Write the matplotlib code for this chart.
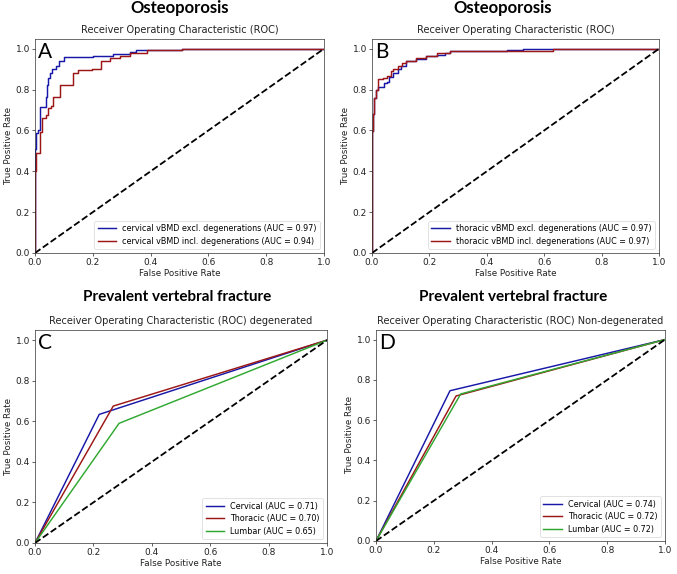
import matplotlib
matplotlib.use("Agg")
import matplotlib.pyplot as plt

# ---------------- data ----------------
# Panel A (cervical)
a_excl_fpr = [0, 0, 0.003, 0.012, 0.019, 0.037, 0.040, 0.046, 0.052, 0.060, 0.073, 0.084, 0.100, 0.200, 0.225, 0.270, 0.330, 0.350, 0.510, 1.0]
a_excl_tpr = [0, 0.510, 0.586, 0.600, 0.714, 0.766, 0.820, 0.856, 0.880, 0.900, 0.913, 0.940, 0.957, 0.962, 0.966, 0.975, 0.985, 0.995, 1.000, 1.0]
a_incl_fpr = [0, 0, 0.003, 0.017, 0.025, 0.038, 0.046, 0.054, 0.064, 0.087, 0.133, 0.150, 0.196, 0.230, 0.260, 0.294, 0.330, 0.386, 0.510, 1.0]
a_incl_tpr = [0, 0.400, 0.490, 0.594, 0.660, 0.676, 0.710, 0.720, 0.766, 0.823, 0.880, 0.894, 0.900, 0.938, 0.954, 0.966, 0.979, 0.992, 1.000, 1.0]
a_labels = ["cervical vBMD excl. degenerations (AUC = 0.97)",
            "cervical vBMD incl. degenerations (AUC = 0.94)"]

# Panel B (thoracic)
b_excl_fpr = [0, 0, 0.005, 0.008, 0.014, 0.020, 0.043, 0.054, 0.060, 0.072, 0.089, 0.100, 0.118, 0.152, 0.187, 0.227, 0.256, 0.273, 0.470, 0.527, 1.0]
b_excl_tpr = [0, 0.595, 0.680, 0.757, 0.800, 0.815, 0.830, 0.838, 0.860, 0.880, 0.900, 0.917, 0.938, 0.950, 0.962, 0.970, 0.980, 0.990, 0.995, 1.000, 1.0]
b_incl_fpr = [0, 0, 0.005, 0.008, 0.014, 0.020, 0.037, 0.054, 0.066, 0.072, 0.089, 0.106, 0.118, 0.152, 0.187, 0.227, 0.273, 0.630, 1.0]
b_incl_tpr = [0, 0.595, 0.680, 0.757, 0.800, 0.850, 0.856, 0.865, 0.890, 0.900, 0.913, 0.930, 0.940, 0.954, 0.966, 0.977, 0.990, 1.000, 1.0]
b_labels = ["thoracic vBMD excl. degenerations (AUC = 0.97)",
            "thoracic vBMD incl. degenerations (AUC = 0.97)"]

# Panel C (degenerated) knee points
c_names = ["Cervical", "Thoracic", "Lumbar"]
c_auc = ["0.71", "0.70", "0.65"]
c_fpr = [0.220, 0.268, 0.288]
c_tpr = [0.634, 0.675, 0.590]

# Panel D (non-degenerated) knee points
d_names = ["Cervical", "Thoracic", "Lumbar"]
d_auc = ["0.74", "0.72", "0.72"]
d_fpr = [0.256, 0.277, 0.293]
d_tpr = [0.746, 0.720, 0.730]

sub_titles = ["Receiver Operating Characteristic (ROC)",
              "Receiver Operating Characteristic (ROC)",
              "Receiver Operating Characteristic (ROC) degenerated",
              "Receiver Operating Characteristic (ROC) Non-degenerated"]
letters = ["A", "B", "C", "D"]
top_titles = ["Osteoporosis", "Osteoporosis",
              "Prevalent vertebral fracture", "Prevalent vertebral fracture"]

BLUE = "#1818a8"
RED = "#9c1616"
GREEN = "#30a830"
colors3 = [BLUE, RED, GREEN]

W, H = 677, 574
fig = plt.figure(figsize=(W / 100, H / 100), dpi=100)

def px_axes(l, t, r, b):
    return fig.add_axes([l / W, 1 - b / H, (r - l) / W, (b - t) / H])

axA = px_axes(35, 38.5, 324, 253)
axB = px_axes(372, 38.5, 659, 253)
axC = px_axes(35, 330, 327, 543)
axD = px_axes(376, 329.5, 665, 541)
axes = [axA, axB, axC, axD]

LW = 1.05
axA.plot(a_excl_fpr, a_excl_tpr, drawstyle="steps-post", color=BLUE, lw=LW, label=a_labels[0])
axA.plot(a_incl_fpr, a_incl_tpr, drawstyle="steps-post", color=RED, lw=LW, label=a_labels[1])
axB.plot(b_excl_fpr, b_excl_tpr, drawstyle="steps-post", color=BLUE, lw=LW, label=b_labels[0])
axB.plot(b_incl_fpr, b_incl_tpr, drawstyle="steps-post", color=RED, lw=LW, label=b_labels[1])

for i in range(3):
    axC.plot([0, c_fpr[i], 1], [0, c_tpr[i], 1], color=colors3[i], lw=LW,
             label=f"{c_names[i]} (AUC = {c_auc[i]})")
    axD.plot([0, d_fpr[i], 1], [0, d_tpr[i], 1], color=colors3[i], lw=LW,
             label=f"{d_names[i]} (AUC = {d_auc[i]})")

for i, ax in enumerate(axes):
    ax.plot([0, 1], [0, 1], "k--", lw=1.3)
    ax.set_xlim(0, 1)
    ax.set_ylim(0, 1.05)
    ax.set_xticks([0, 0.2, 0.4, 0.6, 0.8, 1.0])
    ax.set_yticks([0, 0.2, 0.4, 0.6, 0.8, 1.0])
    ax.tick_params(labelsize=6.5, length=2.2, width=0.5, pad=1.5, colors="#222222")
    for s in ax.spines.values():
        s.set_linewidth(0.5)
        s.set_color("#333333")
    ax.set_xlabel("False Positive Rate", fontsize=6.3, labelpad=1.5, color="#222222")
    ax.set_ylabel("True Positive Rate", fontsize=6.3, labelpad=1.5, color="#222222")
    ax.set_title(sub_titles[i], fontsize=7, pad=4, color="#222222")
    ax.text(0.01, 0.985, letters[i], transform=ax.transAxes, ha="left", va="top",
            fontsize=15, family="Lato")
    leg = ax.legend(loc="lower right", fontsize=5.75, handlelength=2.3,
                    borderaxespad=0.5, labelspacing=0.45, fancybox=True)
    leg.get_frame().set_linewidth(0.5)

title_pos = [(180, 8), (503, 8), (177, 297), (513, 297)]
title_sizes = [12, 12, 11, 11]
for (x, y), t, fs in zip(title_pos, top_titles, title_sizes):
    fig.text(x / W, 1 - y / H, t, ha="center", va="center", fontsize=fs,
             fontweight="bold", family="Lato")

fig.savefig("out.png", dpi=100)
